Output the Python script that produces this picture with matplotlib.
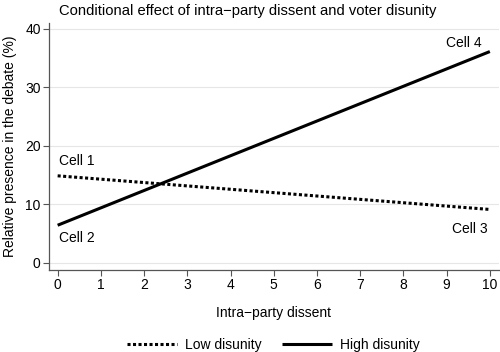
import matplotlib
matplotlib.use("Agg")
import matplotlib.pyplot as plt
import numpy as np

plt.rcParams['font.family'] = ['Liberation Sans', 'DejaVu Sans']

dissent = [0, 10]
low_disunity = [14.85, 9.1]
high_disunity = [6.4, 36.1]
x_ticks = list(range(0, 11))
y_ticks = [0, 10, 20, 30, 40]
cells = ["Cell 1", "Cell 2", "Cell 3", "Cell 4"]

fig = plt.figure(figsize=(5, 3.52), dpi=100)
ax = fig.add_axes([0.098, 0.233, 0.899, 0.702])

ax.plot(dissent, low_disunity, color='black', lw=2.2, linestyle=(0, (1.0, 0.8)),
        dash_capstyle='butt', label='Low disunity')
ax.plot(dissent, high_disunity, color='black', lw=2.2, label='High disunity',
        solid_capstyle='butt')

fs = 10
ax.text(0.02, 17.4, cells[0], ha='left', va='center', fontsize=fs)
ax.text(0.02, 4.2, cells[1], ha='left', va='center', fontsize=fs)
ax.text(9.95, 5.8, cells[2], ha='right', va='center', fontsize=fs)
ax.text(9.82, 37.6, cells[3], ha='right', va='center', fontsize=fs)

ax.set_xlim(-0.2, 10.2)
ax.set_ylim(-1.25, 41)
ax.set_xticks(x_ticks)
ax.set_yticks(y_ticks)
ax.yaxis.grid(True, color='#e6e6e6', lw=0.8)
ax.set_axisbelow(True)
for s in ['top', 'right']:
    ax.spines[s].set_visible(False)
for s in ['left', 'bottom']:
    ax.spines[s].set_color('#555555')
    ax.spines[s].set_linewidth(0.9)
ax.tick_params(axis='both', direction='out', length=4, width=0.8, color='#555555',
               labelsize=fs, pad=2)

ax.set_xlabel('Intra\u2212party dissent', fontsize=fs, labelpad=10)
ax.set_ylabel('Relative presence in the debate (%)', fontsize=fs, labelpad=6)
fig.text(0.118, 0.97, 'Conditional effect of intra\u2212party dissent and voter disunity',
         ha='left', va='center', fontsize=10.65)

handles, labels = ax.get_legend_handles_labels()
fig.legend(handles, labels, loc='center', bbox_to_anchor=(0.547, 0.02), ncol=2,
           frameon=False, fontsize=fs, handlelength=3.6, columnspacing=1.45,
           handletextpad=0.58)

fig.savefig('out.png', dpi=100)
